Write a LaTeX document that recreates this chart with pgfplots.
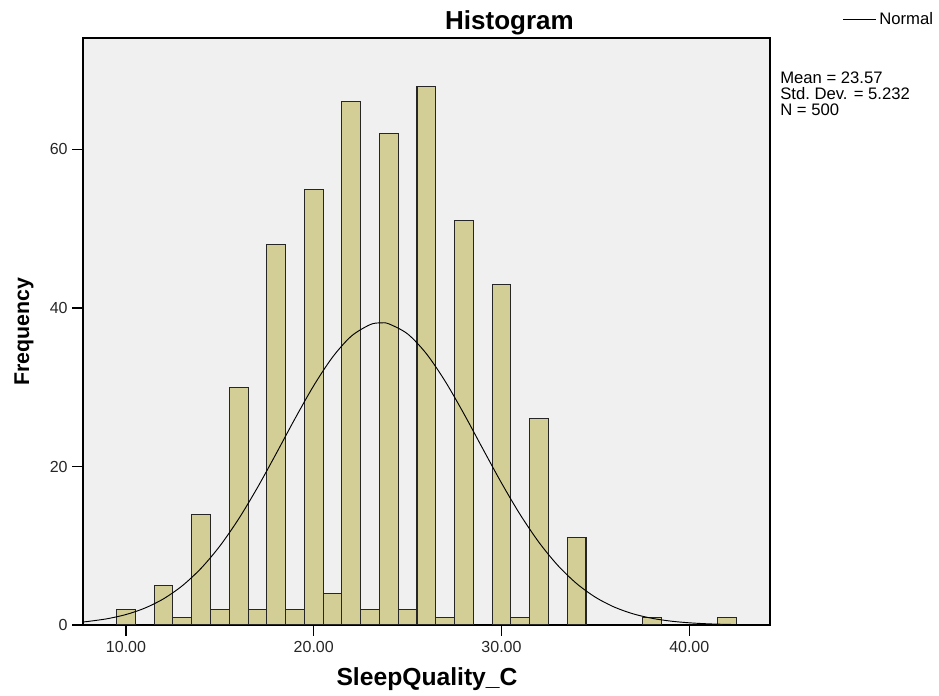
\documentclass[border=0pt]{standalone}
\usepackage{pgfplots}
\pgfplotsset{compat=1.18}
\usepackage{fontspec}
\setmainfont{Liberation Sans}
\definecolor{barfill}{RGB}{211,206,150}
\definecolor{bg}{RGB}{240,240,240}
\begin{document}
\begin{tikzpicture}[x=0.75pt,y=0.75pt]
\path (0,0) rectangle (939,693);
\begin{axis}[
  at={(62.25pt,51pt)}, anchor=south west,
  scale only axis, width=515.25pt, height=440.25pt,
  xmin=7.71, xmax=44.3, ymin=0, ymax=74.07,
  axis background/.style={fill=bg},
  axis line style={black, line width=0.8pt},
  xtick={10,20,30,40}, ytick={0,20,40,60},
  xtick pos=bottom, ytick pos=left,
  tick align=outside, major tick length=8pt,
  tick style={black, line width=0.8pt},
  /pgf/number format/assume math mode=true,
  ticklabel style={font=\fontsize{12}{12}\selectfont, text=black!85},
  xticklabel style={yshift=-1pt, /pgf/number format/.cd, fixed, fixed zerofill, precision=2},
  clip=true,
]
\addplot[ybar, bar width=1, bar shift=0, fill=barfill, draw=black!85, line width=0.8pt]
coordinates {
(10,2) (12,5) (13,1) (14,14) (15,2) (16,30) (17,2) (18,48) (19,2)
(20,55) (21,4) (22,66) (23,2) (24,62) (25,2) (26,68) (27,1) (28,51)
(30,43) (31,1) (32,26) (34,11) (38,1) (42,1)
};
\addplot[smooth, black, line width=0.7pt, mark=none] coordinates {
(7.7,0.383) (8,0.455) (9,0.790) (10,1.320) (11,2.127) (12,3.306) (13,4.954)
(14,7.157) (15,9.968) (16,13.386) (17,17.330) (18,21.632) (19,26.034)
(20,30.208) (21,33.792) (22,36.447) (23,37.900) (23.57,38.125) (24,37.997)
(25,36.727) (26,34.227) (27,30.753) (28,26.640) (29,22.249) (30,17.916)
(31,13.908) (32,10.411) (33,7.514) (34,5.227) (35,3.507) (36,2.268)
(37,1.414) (38,0.850) (39,0.493) (40,0.275) (41,0.148) (42,0.077)
(43,0.039) (44.3,0.015)
};
\end{axis}
\node[anchor=base, font=\fontsize{19.5}{20}\selectfont\bfseries] at (509.5,663) {Histogram};
\node[anchor=base, font=\fontsize{18.5}{19}\selectfont\bfseries] at (427,7) {SleepQuality\_C};
\node[anchor=base, rotate=90, font=\fontsize{16}{16}\selectfont\bfseries] at (29,361) {Frequency};
\draw[black, line width=0.7pt] (843,674) -- (876,674);
\node[anchor=west, inner sep=0pt, font=\fontsize{12.5}{13}\selectfont] at (879,674) {Normal};
\node[anchor=north west, inner sep=0pt, align=left, font=\fontsize{12.5}{12}\selectfont] at (780,621) {Mean = 23.57\\Std.\ Dev. = 5.232\\N = 500};
\end{tikzpicture}
\end{document}
